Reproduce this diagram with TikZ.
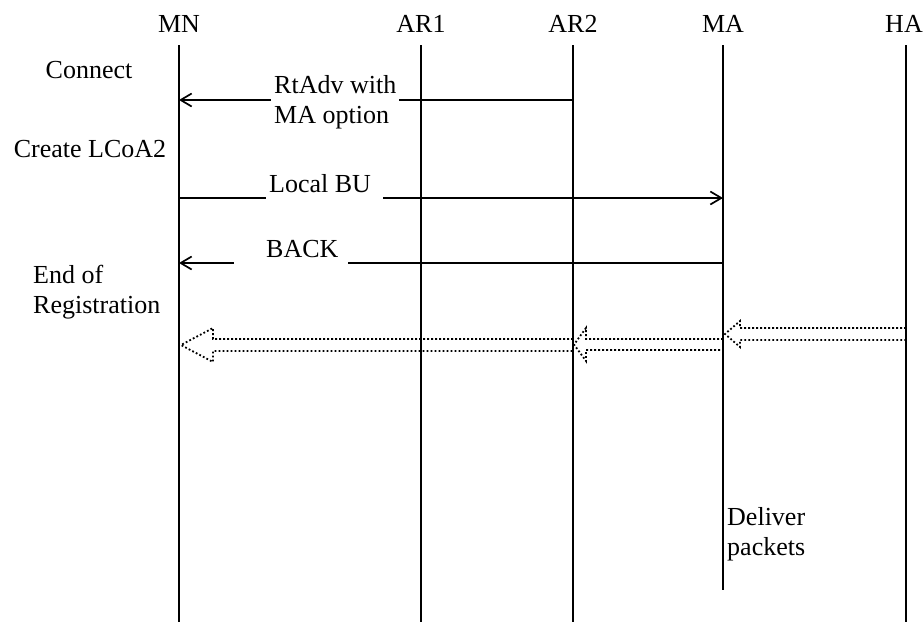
\documentclass[tikz,border=0pt]{standalone}
\usepackage{fontspec}
\setmainfont{Liberation Serif}
\usetikzlibrary{arrows.meta}
\tikzset{
  lifeline/.style={line width=2.5pt, line cap=butt},
  msg/.style={line width=2.1pt, -{Straight Barb[length=11pt,width=13pt,line width=1.7pt]}},
  msglabel/.style={fill=white, inner xsep=3pt, inner ysep=3pt, text height=18pt, text depth=8pt},
  txt/.style={inner sep=0pt},
  dotarrow/.style={line width=1.8pt, dash pattern=on 1.8pt off 2.2pt, line join=miter},
}
\begin{document}
\begin{tikzpicture}[x=1pt,y=-1pt, every node/.style={font=\fontsize{26}{30}\selectfont}]
\useasboundingbox (0,0) rectangle (924,625);
% headers
\node[txt, anchor=base] (hmn) at (179,32) {MN};
\node[txt, anchor=base] (har1) at (421,32) {AR1};
\node[txt, anchor=base] (har2) at (573,32) {AR2};
\node[txt, anchor=base] (hma) at (723,32) {MA};
\node[txt, anchor=base] (hha) at (904,32) {HA};
% lifeline ends
\coordinate (mn-top) at (179,45);  \coordinate (mn-bot) at (179,622);
\coordinate (ar1-top) at (421,45); \coordinate (ar1-bot) at (421,622);
\coordinate (ar2-top) at (573,45); \coordinate (ar2-bot) at (573,622);
\coordinate (ma-top) at (723,45);  \coordinate (ma-bot) at (723,590);
\coordinate (ha-top) at (906,45);  \coordinate (ha-bot) at (906,622);
\draw[lifeline] (mn-top) -- (mn-bot);
\draw[lifeline] (ar1-top) -- (ar1-bot);
\draw[lifeline] (ar2-top) -- (ar2-bot);
\draw[lifeline] (ma-top) -- (ma-bot);
\draw[lifeline] (ha-top) -- (ha-bot);
% side labels
\node[txt, anchor=base] (lconnect) at (89,78) {Connect};
\node[txt, anchor=base] (lcreate) at (90,157) {Create LCoA2};
\node[txt, anchor=base west, align=left] (lend) at (33,313) {End of\\Registration};
\node[txt, anchor=base west, align=left] (ldeliver) at (727,555) {Deliver\\packets};
% messages
\coordinate (ar2-rt) at (573,100); \coordinate (mn-rt) at (179,100);
\draw[msg] (ar2-rt) -- (mn-rt);
\node[fill=white, inner xsep=3pt, inner ysep=2pt, anchor=base west, align=left] (rtlabel) at (271,123) {RtAdv with\\MA option};
\coordinate (mn-bu) at (179,198); \coordinate (ma-bu) at (723,198);
\draw[msg] (mn-bu) -- (ma-bu);
\node[msglabel, anchor=base west, inner xsep=0pt] (bulabel) at (266,192) {\hspace*{3pt}Local BU\hspace*{12pt}};
\coordinate (ma-back) at (723,263); \coordinate (mn-back) at (179,263);
\draw[msg] (ma-back) -- (mn-back);
\node[msglabel, anchor=base west, inner xsep=0pt] (backlabel) at (234,257) {\hspace*{32pt}BACK\hspace*{10pt}};
% dotted data arrows
\coordinate (ha-d1) at (906,328); \coordinate (ha-d2) at (906,340);
\coordinate (ma-tip) at (725,334);
\draw[dotarrow] (ha-d1) -- (740,328) -- (740,321) -- (ma-tip) -- (740,347) -- (740,340) -- (ha-d2);
\coordinate (ma-d1) at (723,339); \coordinate (ma-d2) at (723,350);
\coordinate (ar2-tip) at (574,344.5);
\draw[dotarrow] (ma-d1) -- (586,339) -- (586,328) -- (ar2-tip) -- (586,361) -- (586,350) -- (ma-d2);
\coordinate (ar2-d1) at (573,339); \coordinate (ar2-d2) at (573,351);
\coordinate (mn-tip) at (181,345);
\draw[dotarrow] (ar2-d1) -- (213,339) -- (213,328) -- (mn-tip) -- (213,362) -- (213,351) -- (ar2-d2);
\end{tikzpicture}
\end{document}
